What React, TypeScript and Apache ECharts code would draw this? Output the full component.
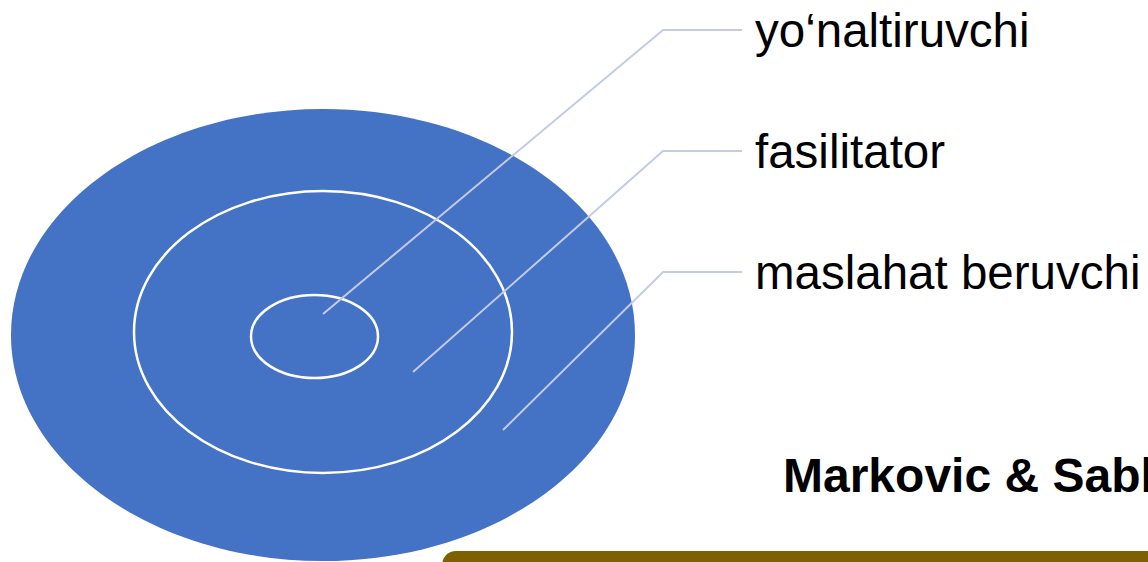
import React, { useEffect, useRef } from "react";
import * as echarts from "echarts";

const W = 1148;
const H = 562;

// Concentric rings (outer → inner)
const ringNames = ["maslahat beruvchi", "fasilitator", "yo‘naltiruvchi"];
const ringCx = [323, 323, 314.5];
const ringCy = [335, 332, 336.5];
const ringRx = [312, 189, 63.5];
const ringRy = [226, 141, 41.5];

// Leader labels (top → bottom)
const labelNames = ["yo‘naltiruvchi", "fasilitator", "maslahat beruvchi"];
const anchorX = [323, 413, 503];
const anchorY = [314, 372, 430];
const elbowX = [663, 663, 663];
const labelY = [30, 151, 272];
const lineEndX = [742, 742, 742];

const citation = "Markovic & Sabl";

const FONT = "'Liberation Sans', Arial, Helvetica, sans-serif";

export default function App() {
  const ref = useRef<HTMLDivElement>(null);

  useEffect(() => {
    if (!ref.current) return;
    const chart = echarts.init(ref.current, undefined, { renderer: "svg" });

    const ringData = ringNames.map((n, i) => ({
      name: n,
      value: [ringCx[i], ringCy[i], ringRx[i], ringRy[i]],
    }));
    const leaderData = labelNames.map((n, i) => ({
      name: n,
      value: [anchorX[i], anchorY[i], elbowX[i], labelY[i], lineEndX[i]],
    }));

    chart.setOption({
      animation: false,
      backgroundColor: "#ffffff",
      grid: { left: 0, right: 0, top: 0, bottom: 0, containLabel: false },
      xAxis: { type: "value", min: 0, max: W, show: false },
      yAxis: { type: "value", min: 0, max: H, inverse: true, show: false },
      series: [
        {
          type: "custom",
          name: "rings",
          coordinateSystem: "cartesian2d",
          clip: false,
          data: ringData,
          renderItem: (params: any, api: any) => {
            const i = params.dataIndex;
            const c = api.coord([api.value(0), api.value(1)]);
            const s = api.size([api.value(2) * 2, api.value(3) * 2], [api.value(0), api.value(1)]);
            return {
              type: "ellipse",
              shape: { cx: c[0], cy: c[1], rx: s[0] / 2, ry: s[1] / 2 },
              style:
                i === 0
                  ? { fill: "#4472C4" }
                  : { fill: "none", stroke: "#ffffff", lineWidth: 2.5 },
            };
          },
        },
        {
          type: "custom",
          name: "leaders",
          coordinateSystem: "cartesian2d",
          clip: false,
          data: leaderData,
          renderItem: (params: any, api: any) => {
            const i = params.dataIndex;
            const a = api.coord([api.value(0), api.value(1)]);
            const e = api.coord([api.value(2), api.value(3)]);
            const t = api.coord([api.value(4), api.value(3)]);
            return {
              type: "group",
              children: [
                {
                  type: "polyline",
                  shape: { points: [a, e, t] },
                  style: { fill: "none", stroke: "#C3CBE6", lineWidth: 2 },
                },
                {
                  type: "text",
                  x: t[0] + 13,
                  y: t[1],
                  style: {
                    text: labelNames[i],
                    fill: "#000000",
                    font: `47.5px ${FONT}`,
                    align: "left",
                    verticalAlign: "middle",
                  },
                },
              ],
            };
          },
        },
      ],
      graphic: [
        {
          type: "rect",
          left: 442,
          top: 551,
          shape: { width: 740, height: 40, r: 14 },
          style: { fill: "#7F6000" },
          z: 10,
        },
        {
          type: "text",
          x: 783,
          y: 475,
          style: {
            text: citation,
            fill: "#000000",
            font: `bold 48px ${FONT}`,
            align: "left",
            verticalAlign: "middle",
          },
          z: 10,
        },
      ],
    });

    return () => chart.dispose();
  }, []);

  return (
    <div
      ref={ref}
      style={{ position: "fixed", left: 0, top: 0, width: W, height: H }}
    />
  );
}
